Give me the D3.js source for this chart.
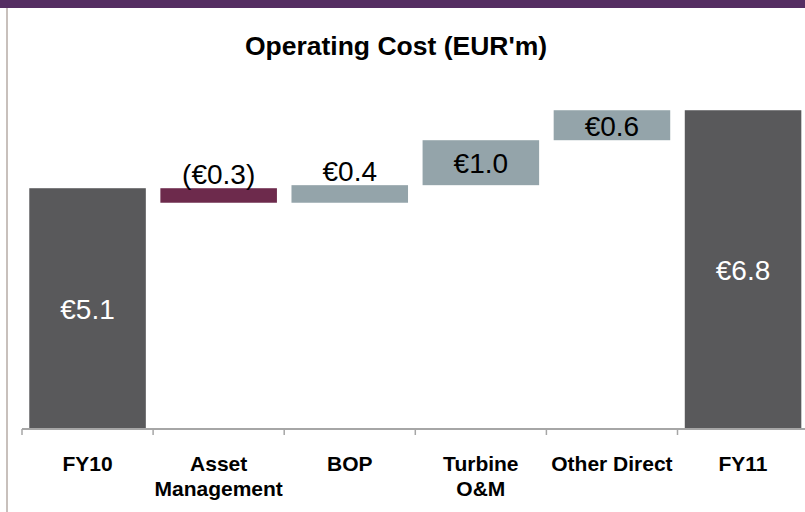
<!DOCTYPE html>
<html>
<head>
<meta charset="utf-8">
<script src="https://cdn.jsdelivr.net/npm/d3@7"></script>
<style>
  html, body { margin: 0; padding: 0; background: #fff; }
  svg { display: block; font-family: "Liberation Sans", Arial, sans-serif; }
</style>
</head>
<body>
<svg id="chart" width="805" height="512"></svg>
<script>
// ---- data ----
const title = "Operating Cost (EUR'm)";
const categories = ["FY10", "Asset\nManagement", "BOP", "Turbine\nO&M", "Other Direct", "FY11"];
const kinds = ["total", "delta", "delta", "delta", "delta", "total"];
const values = [5.13, -0.31, 0.375, 0.96, 0.64, null]; // FY11 = running total

// ---- build waterfall steps ----
let running = 0;
const steps = categories.map((c, i) => {
  let start, end, v;
  if (kinds[i] === "total") {
    v = values[i] == null ? running : values[i];
    start = 0; end = v; running = v;
  } else {
    v = values[i];
    start = running; end = running + v; running = end;
  }
  return { cat: c, kind: kinds[i], value: v, start, end };
});

const fmt = d3.format(".1f");
const labelText = d => d.value < 0 ? "(\u20AC" + fmt(-d.value) + ")" : "\u20AC" + fmt(d.value);
const color = d => d.kind === "total" ? "#59595b" : (d.value < 0 ? "#6d2a4c" : "#94a4aa");

const svg = d3.select("#chart");

// frame
svg.append("rect").attr("x", 0).attr("y", 0).attr("width", 805).attr("height", 8).attr("fill", "#552e62");
svg.append("line").attr("x1", 7).attr("x2", 7).attr("y1", 8).attr("y2", 512)
  .attr("stroke", "#c8c0bc").attr("stroke-width", 2);

// title
svg.append("text").attr("x", 396).attr("y", 55).attr("text-anchor", "middle")
  .attr("font-size", 26.5).attr("font-weight", "bold").attr("fill", "#000").text(title);

// scales
const x = d3.scaleBand().domain(categories).range([22, 808.6]).paddingInner(0.111).paddingOuter(0.0555);
const y = d3.scaleLinear().domain([0, 6.8]).range([428.5, 110]);

// bars
svg.append("g").selectAll("rect").data(steps).join("rect")
  .attr("x", d => x(d.cat))
  .attr("width", x.bandwidth())
  .attr("y", d => y(Math.max(d.start, d.end)))
  .attr("height", d => Math.abs(y(d.start) - y(d.end)))
  .attr("fill", color);

// axis line + boundary ticks
const axisY = 429;
const axisG = svg.append("g");
axisG.append("line").attr("x1", x.range()[0]).attr("x2", 805).attr("y1", axisY).attr("y2", axisY)
  .attr("stroke", "#a6a6a6").attr("stroke-width", 2);
const step = x.step();
axisG.selectAll("line.tick").data(categories).join("line").attr("class", "tick")
  .attr("x1", (d, i) => x.range()[0] + i * step)
  .attr("x2", (d, i) => x.range()[0] + i * step)
  .attr("y1", axisY).attr("y2", axisY + 6)
  .attr("stroke", "#a6a6a6").attr("stroke-width", 1.5);

// category labels
const catLabels = svg.append("g").selectAll("text").data(categories).join("text")
  .attr("x", d => x(d) + x.bandwidth() / 2)
  .attr("y", 471)
  .attr("text-anchor", "middle")
  .attr("font-size", 21).attr("font-weight", "bold").attr("fill", "#000");
catLabels.each(function(d) {
  const lines = d.split("\n");
  d3.select(this).selectAll("tspan").data(lines).join("tspan")
    .attr("x", x(d) + x.bandwidth() / 2)
    .attr("dy", (l, i) => i === 0 ? 0 : 25)
    .text(l => l);
});

// value labels
const small = d => Math.abs(y(d.start) - y(d.end)) < 22;
svg.append("g").selectAll("text").data(steps).join("text")
  .attr("x", d => x(d.cat) + x.bandwidth() / 2)
  .attr("y", d => {
    const top = y(Math.max(d.start, d.end)), bot = y(Math.min(d.start, d.end));
    if (small(d)) return top - 4;
    return (top + bot) / 2 + 1;
  })
  .attr("dominant-baseline", d => small(d) ? "auto" : "central")
  .attr("text-anchor", "middle")
  .attr("font-size", 28)
  .attr("fill", d => d.kind === "total" ? "#fff" : "#000")
  .text(labelText);
</script>
</body>
</html>
